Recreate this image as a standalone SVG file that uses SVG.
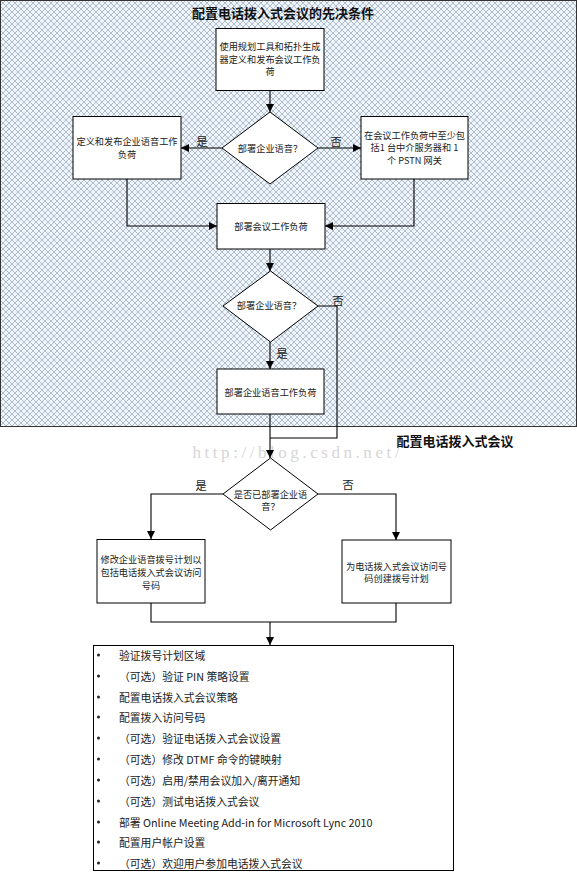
<svg xmlns="http://www.w3.org/2000/svg" width="577" height="874" viewBox="0 0 577 874">
<defs>
<pattern id="hatch" patternUnits="userSpaceOnUse" width="6" height="6">
<rect width="6" height="6" fill="#eef4fa"/>
<path d="M0,0 L6,6 M6,0 L0,6" stroke="#93a6ba" stroke-width="0.7"/>
</pattern>
<marker id="arr" viewBox="0 0 10 10" refX="10" refY="5" markerWidth="8" markerHeight="8" markerUnits="userSpaceOnUse" orient="auto">
<path d="M0,0 L10,5 L0,10 z" fill="#000"/>
</marker>
<style>
.t{font-family:"Noto Sans CJK SC","Noto Sans",sans-serif;font-size:9.2px;fill:#222;text-anchor:middle;dominant-baseline:central}
.lbl{font-family:"Noto Sans CJK SC","Noto Sans",sans-serif;font-size:11.5px;fill:#222;text-anchor:middle;dominant-baseline:central}
.h{font-family:"Noto Sans CJK SC","Noto Sans",sans-serif;font-size:13px;font-weight:bold;fill:#111;text-anchor:middle;dominant-baseline:central}
.li{font-family:"Noto Sans CJK SC","Noto Sans",sans-serif;font-size:10.8px;fill:#222;dominant-baseline:central}
.box{fill:#fff;stroke:#000;stroke-width:1}
.c{fill:none;stroke:#000;stroke-width:1.1}
.ca{fill:none;stroke:#000;stroke-width:1.1;marker-end:url(#arr)}
</style>
</defs>
<rect id="region" x="0.5" y="0.5" width="576" height="426" fill="url(#hatch)" stroke="#333" stroke-width="1"/>
<text class="h" x="283" y="12">配置电话拨入式会议的先决条件</text>
<text class="h" x="455" y="440">配置电话拨入式会议</text>
<text x="296" y="458" font-family="Liberation Serif,serif" font-size="17" fill="#d6d6d6" text-anchor="middle" textLength="207">http://blog.csdn.net/</text>

<g id="connectors">
<path class="ca" d="M270,91 V112"/>
<path class="ca" d="M222,148 H181"/>
<path class="ca" d="M318,148 H361"/>
<path class="ca" d="M127,179 V226 H217"/>
<path class="ca" d="M414,179 V226 H325"/>
<path class="ca" d="M270,249 V271"/>
<path class="ca" d="M270,342 V369"/>
<path class="c" d="M318,306 H337 V438 H270"/>
<path class="ca" d="M270,414 V458"/>
<path class="ca" d="M223,494 H151 V539"/>
<path class="ca" d="M318,494 H396 V540"/>
<path class="c" d="M151,603 V622 H396 V603"/>
<path class="ca" d="M270,622 V645"/>
<text class="lbl" x="202" y="141">是</text>
<text class="lbl" x="336" y="141">否</text>
<text class="lbl" x="338" y="300">否</text>
<text class="lbl" x="282" y="353">是</text>
<text class="lbl" x="201" y="485">是</text>
<text class="lbl" x="348" y="484">否</text>
</g>

<g id="n1">
<rect class="box" x="216" y="28.5" width="108" height="62"/>
<text class="t" x="270" y="46">使用规划工具和拓扑生成</text>
<text class="t" x="270" y="58.5">器定义和发布会议工作负</text>
<text class="t" x="270" y="71">荷</text>
</g>
<g id="d1">
<polygon class="box" points="270,112 318,148 270,184 222,148"/>
<text class="t" x="270" y="148">部署企业语音？</text>
</g>
<g id="n2">
<rect class="box" x="73" y="116.5" width="108" height="62.5"/>
<text class="t" x="127" y="141">定义和发布企业语音工作</text>
<text class="t" x="127" y="153.5">负荷</text>
</g>
<g id="n3">
<rect class="box" x="361" y="116.5" width="107" height="62.5"/>
<text class="t" x="414.5" y="134.5">在会议工作负荷中至少包</text>
<text class="t" x="414.5" y="147">括1 台中介服务器和 1</text>
<text class="t" x="414.5" y="159.5">个 PSTN 网关</text>
</g>
<g id="n4">
<rect class="box" x="217" y="203.5" width="108" height="45.5"/>
<text class="t" x="271" y="226">部署会议工作负荷</text>
</g>
<g id="d2">
<polygon class="box" points="270.5,271 318,306 270.5,342 223,306"/>
<text class="t" x="269" y="305">部署企业语音？</text>
</g>
<g id="n5">
<rect class="box" x="217" y="369" width="107" height="45"/>
<text class="t" x="270.5" y="392">部署企业语音工作负荷</text>
</g>
<g id="d3">
<polygon class="box" points="270.5,458 318,494 270.5,530 223,494"/>
<text class="t" x="270.5" y="493.5">是否已部署企业语</text>
<text class="t" x="270.5" y="506">音？</text>
</g>
<g id="n6">
<rect class="box" x="97" y="539.5" width="108" height="63.5"/>
<text class="t" x="151" y="558.5">修改企业语音拨号计划以</text>
<text class="t" x="151" y="571.5">包括电话拨入式会议访问</text>
<text class="t" x="151" y="584.5">号码</text>
</g>
<g id="n7">
<rect class="box" x="342" y="540" width="109" height="63"/>
<text class="t" x="396.5" y="565.5">为电话拨入式会议访问号</text>
<text class="t" x="396.5" y="578">码创建拨号计划</text>
</g>
<g id="n8">
<rect class="box" x="93.5" y="645.5" width="360" height="225"/>
<g fill="#222">
<circle cx="98.5" cy="655" r="1.5"/><circle cx="98.5" cy="676" r="1.5"/><circle cx="98.5" cy="697" r="1.5"/><circle cx="98.5" cy="717" r="1.5"/><circle cx="98.5" cy="738" r="1.5"/><circle cx="98.5" cy="759" r="1.5"/><circle cx="98.5" cy="780" r="1.5"/><circle cx="98.5" cy="801" r="1.5"/><circle cx="98.5" cy="822" r="1.5"/><circle cx="98.5" cy="842" r="1.5"/><circle cx="98.5" cy="863" r="1.5"/>
</g>
<text class="li" x="119" y="655">验证拨号计划区域</text>
<text class="li" x="119" y="676">（可选）验证 PIN 策略设置</text>
<text class="li" x="119" y="697">配置电话拨入式会议策略</text>
<text class="li" x="119" y="717">配置拨入访问号码</text>
<text class="li" x="119" y="738">（可选）验证电话拨入式会议设置</text>
<text class="li" x="119" y="759">（可选）修改 DTMF 命令的键映射</text>
<text class="li" x="119" y="780">（可选）启用/禁用会议加入/离开通知</text>
<text class="li" x="119" y="801">（可选）测试电话拨入式会议</text>
<text class="li" x="119" y="822">部署 Online Meeting Add-in for Microsoft Lync 2010</text>
<text class="li" x="119" y="842">配置用户帐户设置</text>
<text class="li" x="119" y="863">（可选）欢迎用户参加电话拨入式会议</text>
</g>
</svg>
